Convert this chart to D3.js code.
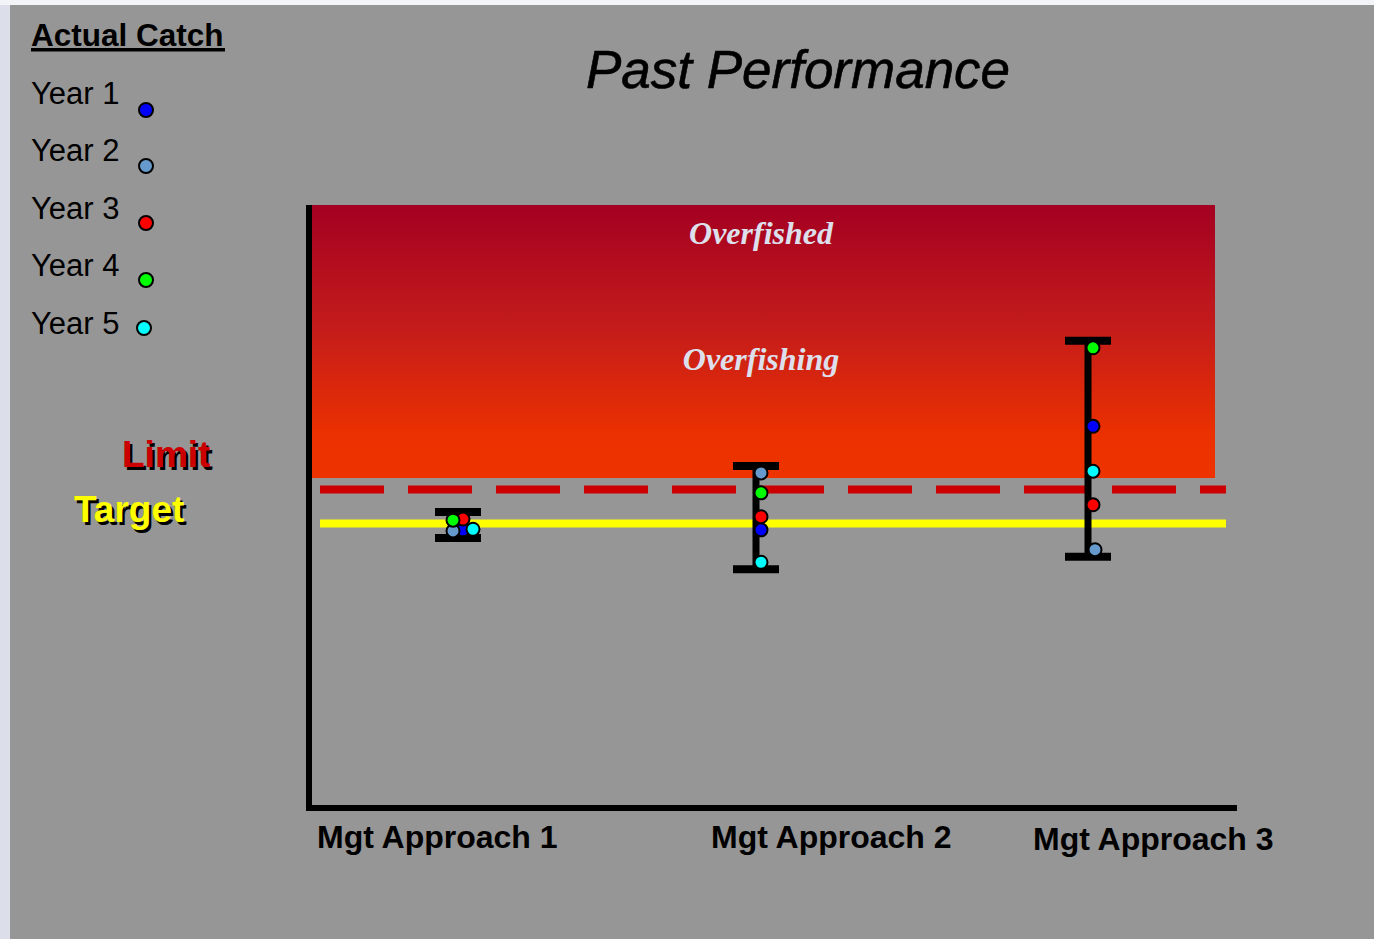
<!DOCTYPE html>
<html>
<head>
<meta charset="utf-8">
<script src="https://cdn.jsdelivr.net/npm/d3@7"></script>
<style>
  html, body { margin: 0; padding: 0; background: #dcdfe9; }
  svg { display: block; }
</style>
</head>
<body>
<svg id="chart" width="1374" height="939"></svg>
<script>
// ---- data ----
const approaches = ["Mgt Approach 1", "Mgt Approach 2", "Mgt Approach 3"];
const years = ["Year 1", "Year 2", "Year 3", "Year 4", "Year 5"];
const yearColors = ["#0000ff", "#6699cc", "#ff0000", "#00ff00", "#00ffff"];

// actual catch per year, one value per approach
const catchYear1 = [48.9, 48.9, 67.1];
const catchYear2 = [48.7, 58.9, 45.4];
const catchYear3 = [50.8, 51.2, 53.3];
const catchYear4 = [50.6, 55.4, 80.9];
const catchYear5 = [49.0, 43.2, 59.2];
const catchByYear = [catchYear1, catchYear2, catchYear3, catchYear4, catchYear5];

const targetCatch = 50;
const limitCatch = 56;
const overfishingFloor = 58;
const axisMax = 106;

// ---- layout ----
const svg = d3.select("#chart");
const font = "'Liberation Sans', Arial, sans-serif";

const y = d3.scaleLinear().domain([0, axisMax]).range([808, 205]);
const xBar = d3.scaleOrdinal().domain(approaches).range([458, 756, 1088]);
const xLabel = d3.scaleOrdinal().domain(approaches).range([317, 711, 1033]);
const yLabel = d3.scaleOrdinal().domain(approaches).range([848, 848, 850]);
const plotLeft = 312, plotRight = 1215, lineLeft = 320, lineRight = 1226;
// small sideways nudges so overlapping dots stay visible
const dotNudge = [[5, -5, 5, -5, 15], [5, 5, 5, 5, 5], [5, 7, 5, 5, 5]];

// page panels
svg.append("rect").attr("x", 0).attr("y", 0).attr("width", 1374).attr("height", 5).attr("fill", "#f3f4f7");
svg.append("rect").attr("x", 10).attr("y", 5).attr("width", 1364).attr("height", 934).attr("fill", "#969696");

// gradient for the overfishing zone
const defs = svg.append("defs");
const grad = defs.append("linearGradient").attr("id", "zoneGrad")
  .attr("x1", 0).attr("y1", 0).attr("x2", 0).attr("y2", 1);
grad.append("stop").attr("offset", "0%").attr("stop-color", "#a40021");
grad.append("stop").attr("offset", "45%").attr("stop-color", "#c41c1b");
grad.append("stop").attr("offset", "85%").attr("stop-color", "#ec3100");
grad.append("stop").attr("offset", "100%").attr("stop-color", "#ee3300");

svg.append("rect")
  .attr("x", plotLeft).attr("y", y(axisMax))
  .attr("width", plotRight - plotLeft)
  .attr("height", y(overfishingFloor) - y(axisMax))
  .attr("fill", "url(#zoneGrad)");

// zone labels
svg.append("text").text("Overfished")
  .attr("x", 761).attr("y", 244).attr("text-anchor", "middle")
  .attr("font-family", "'Liberation Serif', 'Times New Roman', serif")
  .attr("font-style", "italic").attr("font-weight", "bold")
  .attr("font-size", 32).attr("fill", "#dde0ec");
svg.append("text").text("Overfishing")
  .attr("x", 761).attr("y", 370).attr("text-anchor", "middle")
  .attr("font-family", "'Liberation Serif', 'Times New Roman', serif")
  .attr("font-style", "italic").attr("font-weight", "bold")
  .attr("font-size", 32).attr("fill", "#dde0ec");

// limit and target reference lines
svg.append("line")
  .attr("x1", lineLeft).attr("x2", lineRight)
  .attr("y1", y(limitCatch)).attr("y2", y(limitCatch))
  .attr("stroke", "#cc0000").attr("stroke-width", 8)
  .attr("stroke-dasharray", "64 24");
svg.append("line")
  .attr("x1", lineLeft).attr("x2", lineRight)
  .attr("y1", y(targetCatch)).attr("y2", y(targetCatch))
  .attr("stroke", "#ffff00").attr("stroke-width", 8);

// axes
svg.append("path")
  .attr("d", `M309,${y(axisMax)} V${y(0)} H1237`)
  .attr("fill", "none").attr("stroke", "#000").attr("stroke-width", 6);

// category labels
svg.selectAll("text.cat").data(approaches).join("text")
  .attr("class", "cat")
  .attr("x", d => xLabel(d)).attr("y", d => yLabel(d))
  .attr("font-family", font).attr("font-weight", "bold")
  .attr("font-size", 32).attr("fill", "#000")
  .text(d => d);

// range bars
const capPad = 7, capHalf = 23;
approaches.forEach((a, i) => {
  const vals = catchByYear.map(s => s[i]);
  const top = y(d3.max(vals)) - capPad;
  const bot = y(d3.min(vals)) + capPad;
  const cx = xBar(a);
  const g = svg.append("g");
  g.append("line").attr("x1", cx).attr("x2", cx).attr("y1", top).attr("y2", bot)
    .attr("stroke", "#000").attr("stroke-width", 7);
  g.append("line").attr("x1", cx - capHalf).attr("x2", cx + capHalf).attr("y1", top).attr("y2", top)
    .attr("stroke", "#000").attr("stroke-width", 8);
  g.append("line").attr("x1", cx - capHalf).attr("x2", cx + capHalf).attr("y1", bot).attr("y2", bot)
    .attr("stroke", "#000").attr("stroke-width", 8);
  g.selectAll("circle").data(vals).join("circle")
    .attr("cx", (d, k) => cx + dotNudge[i][k])
    .attr("cy", d => y(d))
    .attr("r", 6.5)
    .attr("fill", (d, k) => yearColors[k])
    .attr("stroke", "#000").attr("stroke-width", 2);
});

// title
svg.append("text").text("Past Performance")
  .attr("x", 798).attr("y", 88).attr("text-anchor", "middle")
  .attr("font-family", font).attr("font-style", "italic")
  .attr("font-size", 53).attr("fill", "#000")
  .attr("stroke", "#000").attr("stroke-width", 0.6);

// legend
svg.append("text").text("Actual Catch")
  .attr("x", 31).attr("y", 46)
  .attr("font-family", font).attr("font-weight", "bold")
  .attr("font-size", 31.5).attr("fill", "#000");
svg.append("rect").attr("x", 31).attr("y", 48).attr("width", 194).attr("height", 3.5).attr("fill", "#000");

const legendBase = [104, 161, 219, 276, 334];
const legendDot = [[146, 110], [146, 166], [146, 223], [146, 280], [144, 328]];
years.forEach((yr, k) => {
  svg.append("text").text(yr)
    .attr("x", 31).attr("y", legendBase[k])
    .attr("font-family", font).attr("font-size", 31).attr("fill", "#000");
  svg.append("circle")
    .attr("cx", legendDot[k][0]).attr("cy", legendDot[k][1]).attr("r", 7)
    .attr("fill", yearColors[k]).attr("stroke", "#000").attr("stroke-width", 2);
});

// reference line labels with drop shadow
function shadowLabel(txt, x, yPos, color) {
  svg.append("text").text(txt).attr("x", x + 2.5).attr("y", yPos + 2.5)
    .attr("font-family", font).attr("font-weight", "bold").attr("font-size", 37).attr("fill", "#000");
  svg.append("text").text(txt).attr("x", x).attr("y", yPos)
    .attr("font-family", font).attr("font-weight", "bold").attr("font-size", 37).attr("fill", color);
}
shadowLabel("Limit", 122, 467, "#cc0000");
shadowLabel("Target", 74, 522, "#ffff00");
</script>
</body>
</html>
